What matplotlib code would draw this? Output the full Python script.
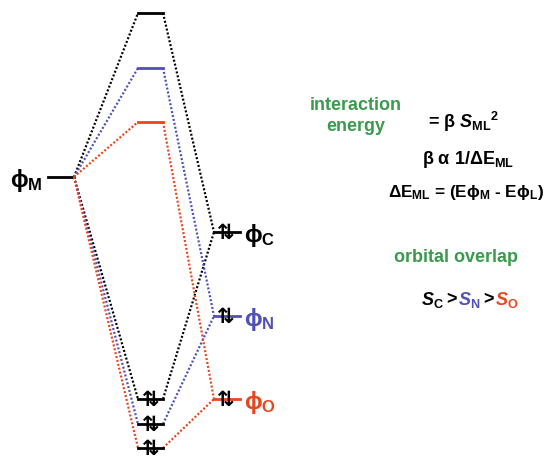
import matplotlib.pyplot as plt

plt.rcParams['mathtext.fontset'] = 'custom'
plt.rcParams['mathtext.rm'] = 'Liberation Sans:bold'
plt.rcParams['mathtext.it'] = 'Liberation Sans:bold:italic'
plt.rcParams['mathtext.bf'] = 'Liberation Sans:bold'
plt.rcParams['mathtext.default'] = 'rm'
plt.rcParams['font.family'] = ['Liberation Sans', 'DejaVu Sans']
plt.rcParams['font.weight'] = 'bold'

# energy levels (pixel rows, top = high energy)
metal_y = 178
ligands = ['C', 'N', 'O']
ligand_y = [233, 317, 400]
antibond_y = [14, 69, 123]
bond_y = [400, 425, 449]
colors = ['black', '#5050b8', '#e8461e']

x_metal = (48, 74)
x_mo = (138, 163)
x_lig = (214, 240)

fig = plt.figure(figsize=(5.49, 4.60), dpi=100)
ax = fig.add_axes([0, 0, 1, 1])
ax.set_xlim(0, 549)
ax.set_ylim(460, 0)
ax.axis('off')

dots = (0, (0.9, 0.9))

# metal level
ax.plot(x_metal, [metal_y, metal_y], color='black', lw=2)
ax.text(10, metal_y + 3, r'$\phi_{M}$', fontsize=17, va='center', ha='left')

for lig, yl, ya, yb, c in zip(ligands, ligand_y, antibond_y, bond_y, colors):
    # correlation lines
    ax.plot([x_metal[1], x_mo[0]], [metal_y, ya], ls=dots, color=c, lw=1.6)
    ax.plot([x_metal[1], x_mo[0]], [metal_y, yb], ls=dots, color=c, lw=1.6)
    ax.plot([x_mo[1], x_lig[0]], [ya, yl], ls=dots, color=c, lw=1.6)
    ax.plot([x_mo[1], x_lig[0]], [yb, yl], ls=dots, color=c, lw=1.6)
    # MO levels
    ax.plot(x_mo, [ya, ya], color=c, lw=2)
    ax.plot(x_mo, [yb, yb], color='black', lw=2)
    # ligand level
    ax.plot(x_lig, [yl, yl], color=c if lig != 'C' else 'black', lw=2)
    # electron pairs
    ax.text(x_lig[0] + 12, yl, '\u21c5', fontsize=15, ha='center', va='center',
            family='DejaVu Sans', fontweight='bold', color='black')
    ax.text((x_mo[0] + x_mo[1]) / 2, yb, '\u21c5', fontsize=15, ha='center', va='center',
            family='DejaVu Sans', fontweight='bold', color='black')
    ax.text(x_lig[1] + 4, yl + 3, r'$\phi_{%s}$' % lig, fontsize=17, color=c,
            va='center', ha='left')

green = '#3a9a4e'
fs = 13
ax.text(356, 116, 'interaction\nenergy', color=green, fontsize=fs,
        ha='center', va='center', linespacing=1.25)
ax.text(428, 122, r'= $\beta$ $\mathit{S}_{ML}$$^{2}$', fontsize=fs, ha='left', va='center')
ax.text(468, 160, r'$\beta$ $\alpha$ 1/$\Delta$E$_{ML}$', fontsize=fs, ha='center', va='center')
ax.text(388, 193, r'$\Delta$E$_{ML}$ = (E$\phi_{M}$ - E$\phi_{L}$)', fontsize=12.3,
        ha='left', va='center')
ax.text(456, 258, 'orbital overlap', color=green, fontsize=fs,
        ha='center', va='center')
ax.text(421, 300, r'$\mathit{S}_{C}$', fontsize=fs, ha='left', va='center')
ax.text(446, 300, '>', fontsize=fs, ha='left', va='center')
ax.text(458, 300, r'$\mathit{S}_{N}$', fontsize=fs, ha='left', va='center', color=colors[1])
ax.text(483, 300, '>', fontsize=fs, ha='left', va='center')
ax.text(495, 300, r'$\mathit{S}_{O}$', fontsize=fs, ha='left', va='center', color=colors[2])

fig.savefig('out.png', dpi=100)
